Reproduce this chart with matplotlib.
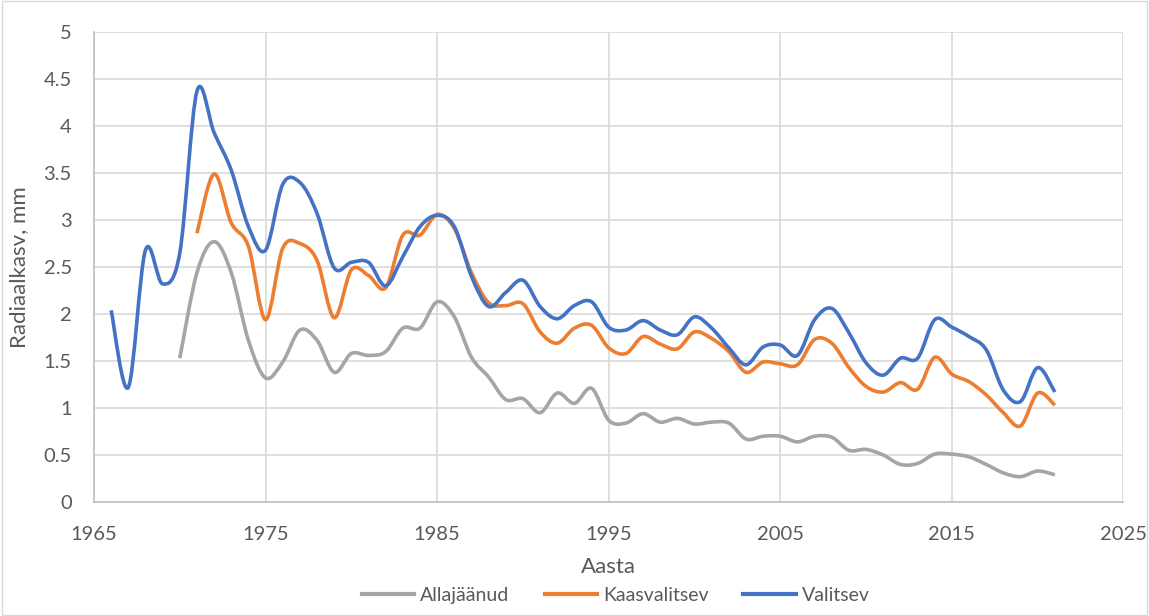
import numpy as np
import matplotlib
matplotlib.use("Agg")
import matplotlib.pyplot as plt
from matplotlib.path import Path
from matplotlib.patches import PathPatch, Rectangle
from matplotlib.lines import Line2D

plt.rcParams['font.family'] = ['Lato', 'DejaVu Sans']

# data
years_valitsev = list(range(1966, 2022))
valitsev = [2.04, 1.22, 2.68, 2.32, 2.65, 4.37, 3.93, 3.53, 2.93, 2.68,
            3.38, 3.40, 3.07, 2.49, 2.55, 2.55, 2.30, 2.61, 2.93, 3.05,
            2.93, 2.40, 2.08, 2.23, 2.36, 2.08, 1.95, 2.09, 2.13, 1.86,
            1.83, 1.93, 1.83, 1.78, 1.97, 1.85, 1.64, 1.46, 1.65, 1.67,
            1.56, 1.94, 2.06, 1.80, 1.48, 1.35, 1.53, 1.53, 1.94, 1.86,
            1.76, 1.62, 1.19, 1.07, 1.43, 1.17]

years_kaasvalitsev = list(range(1971, 2022))
kaasvalitsev = [2.86, 3.49, 2.97, 2.72, 1.94, 2.70, 2.75, 2.57, 1.96, 2.47,
                2.41, 2.28, 2.84, 2.84, 3.06, 2.91, 2.44, 2.12, 2.09, 2.11,
                1.81, 1.69, 1.85, 1.88, 1.64, 1.58, 1.76, 1.68, 1.63, 1.81,
                1.74, 1.60, 1.38, 1.49, 1.47, 1.46, 1.73, 1.69, 1.43, 1.23,
                1.17, 1.27, 1.20, 1.54, 1.36, 1.28, 1.14, 0.95, 0.81, 1.16, 1.03]

years_allajaanud = list(range(1970, 2022))
allajaanud = [1.53, 2.44, 2.77, 2.44, 1.72, 1.32, 1.49, 1.83, 1.72, 1.38,
              1.58, 1.56, 1.60, 1.85, 1.85, 2.13, 1.97, 1.54, 1.33, 1.09,
              1.10, 0.95, 1.16, 1.05, 1.21, 0.87, 0.84, 0.94, 0.85, 0.89,
              0.83, 0.85, 0.84, 0.67, 0.70, 0.70, 0.64, 0.70, 0.69, 0.55,
              0.56, 0.50, 0.40, 0.41, 0.51, 0.51, 0.48, 0.40, 0.31, 0.27,
              0.33, 0.29]

series = [
    ('Allajäänud', years_allajaanud, allajaanud, '#a5a5a5'),
    ('Kaasvalitsev', years_kaasvalitsev, kaasvalitsev, '#ed7d31'),
    ('Valitsev', years_valitsev, valitsev, '#4472c4'),
]


def smooth_path(x, y):
    # Excel-style smoothed line: cubic Bezier through every point
    p = np.column_stack([x, y]).astype(float)
    n = len(p)
    verts = [p[0]]
    codes = [Path.MOVETO]
    for i in range(n - 1):
        p0 = p[i - 1] if i > 0 else p[i]
        p3 = p[i + 2] if i + 2 < n else p[i + 1]
        c1 = p[i] + (p[i + 1] - p0) / 6
        c2 = p[i + 1] - (p3 - p[i]) / 6
        verts += [c1, c2, p[i + 1]]
        codes += [Path.CURVE4] * 3
    return Path(verts, codes)


fig = plt.figure(figsize=(11.49, 6.16), dpi=100)
ax = fig.add_axes([0.0818, 0.185, 0.896, 0.763])

for name, xs, ys, color in series:
    patch = PathPatch(smooth_path(xs, ys), facecolor='none', edgecolor=color,
                      linewidth=2.6, capstyle='butt', joinstyle='round', zorder=3)
    ax.add_patch(patch)

ax.set_xlim(1965, 2025)
ax.set_ylim(0, 5)
ax.set_xticks(range(1965, 2026, 10))
ax.set_yticks(np.arange(0, 5.01, 0.5))
ax.set_yticklabels(['0', '0.5', '1', '1.5', '2', '2.5', '3', '3.5', '4', '4.5', '5'])
ax.grid(True, color='#d9d9d9', linewidth=1.2, zorder=0)
ax.set_axisbelow(True)
for s in ['top', 'right']:
    ax.spines[s].set_visible(False)
ax.spines['left'].set_color('#bfbfbf')
ax.spines['bottom'].set_color('#bfbfbf')
ax.spines['left'].set_linewidth(1.2)
ax.spines['bottom'].set_linewidth(1.2)
ax.tick_params(length=0, labelsize=14.5, colors='#595959')
ax.tick_params(axis='y', pad=16)
ax.tick_params(axis='x', pad=17)

ax.set_xlabel('Aasta', fontsize=16, color='#595959', labelpad=10)
ax.set_ylabel('Radiaalkasv, mm', fontsize=16, color='#595959')
ax.yaxis.set_label_coords(-0.063, 0.5)

handles = [Line2D([0], [0], color=c, linewidth=3) for _, _, _, c in series]
fig.legend(handles, [s[0] for s in series], loc='center', bbox_to_anchor=(0.536, 0.034),
           ncol=3, frameon=False, fontsize=14, handlelength=2.7, handletextpad=0.3,
           columnspacing=1.8, labelcolor='#595959')

fig.patches.append(Rectangle((0.002, 0.002), 0.996, 0.996, transform=fig.transFigure,
                             fill=False, edgecolor='#d9d9d9', linewidth=1))

fig.savefig('out.png', dpi=100)
